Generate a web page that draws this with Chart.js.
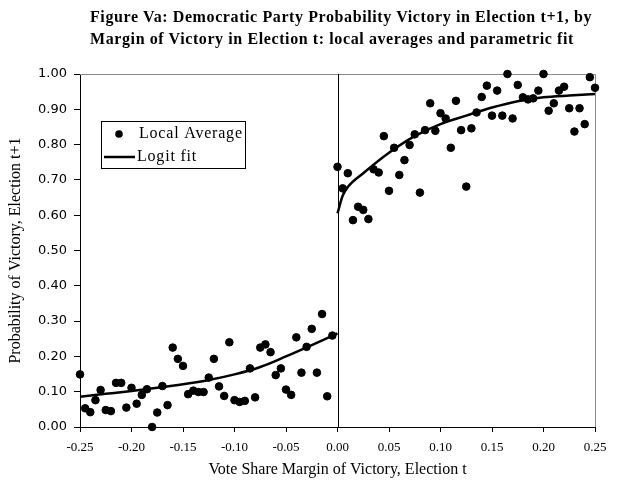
<!DOCTYPE html>
<html>
<head>
<meta charset="utf-8">
<script src="https://cdn.jsdelivr.net/npm/chart.js@4/dist/chart.umd.min.js"></script>
<style>
  body { margin: 0; background: #fff; }
  #wrap { position: relative; width: 617px; height: 484px; }
  #title {
    position: absolute; left: 90px; top: 6px;
    font: bold 16px "Liberation Serif", serif; line-height: 22px; color: #000;
    letter-spacing: 0.6px; white-space: nowrap;
  }
</style>
</head>
<body>
<div id="wrap">
  <canvas id="chart" width="617" height="484"></canvas>
  <div id="title">Figure Va: Democratic Party Probability Victory in Election t+1, by<br>Margin of Victory in Election t: local averages and parametric fit</div>
</div>
<script>
// bin centres (vote share margin) and local averages
const margins = [
  -0.25, -0.245, -0.24, -0.235, -0.23, -0.225, -0.22, -0.215, -0.21, -0.205,
  -0.20, -0.195, -0.19, -0.185, -0.18, -0.175, -0.17, -0.165, -0.16, -0.155,
  -0.15, -0.145, -0.14, -0.135, -0.13, -0.125, -0.12, -0.115, -0.11, -0.105,
  -0.10, -0.095, -0.09, -0.085, -0.08, -0.075, -0.07, -0.065, -0.06, -0.055,
  -0.05, -0.045, -0.04, -0.035, -0.03, -0.025, -0.02, -0.015, -0.01, -0.005,
  0.00, 0.005, 0.01, 0.015, 0.02, 0.025, 0.03, 0.035, 0.04, 0.045,
  0.05, 0.055, 0.06, 0.065, 0.07, 0.075, 0.08, 0.085, 0.09, 0.095,
  0.10, 0.105, 0.11, 0.115, 0.12, 0.125, 0.13, 0.135, 0.14, 0.145,
  0.15, 0.155, 0.16, 0.165, 0.17, 0.175, 0.18, 0.185, 0.19, 0.195,
  0.20, 0.205, 0.21, 0.215, 0.22, 0.225, 0.23, 0.235, 0.24, 0.245, 0.25
];
const localAvg = [
  0.149, 0.053, 0.042, 0.076, 0.105, 0.048, 0.045, 0.125, 0.125, 0.055,
  0.111, 0.066, 0.091, 0.107, 0.000, 0.041, 0.116, 0.062, 0.225, 0.193,
  0.173, 0.093, 0.103, 0.099, 0.099, 0.140, 0.193, 0.115, 0.088, 0.240,
  0.076, 0.071, 0.074, 0.166, 0.084, 0.225, 0.234, 0.212, 0.147, 0.166,
  0.106, 0.091, 0.254, 0.154, 0.227, 0.278, 0.154, 0.320, 0.087, 0.259,
  0.737, 0.676, 0.719, 0.586, 0.624, 0.615, 0.589, 0.730, 0.721, 0.824,
  0.669, 0.791, 0.714, 0.756, 0.799, 0.829, 0.664, 0.841, 0.917, 0.839,
  0.889, 0.874, 0.791, 0.924, 0.841, 0.681, 0.846, 0.891, 0.935, 0.967,
  0.882, 0.953, 0.882, 1.000, 0.874, 0.969, 0.934, 0.928, 0.931, 0.953,
  1.000, 0.896, 0.917, 0.953, 0.964, 0.903, 0.837, 0.903, 0.858, 0.991, 0.961
];

// logit fit (null = break at the cutoff)
const fitMargins = [
  -0.25, -0.225, -0.20, -0.175, -0.15, -0.125, -0.10, -0.075, -0.05, -0.025, 0.00,
  0.00,
  0.00, 0.005, 0.01, 0.025, 0.05, 0.075, 0.10, 0.125, 0.15, 0.175, 0.20, 0.225, 0.25
];
const fitValues = [
  0.086, 0.094, 0.102, 0.111, 0.121, 0.133, 0.149, 0.170, 0.200, 0.232, 0.265,
  null,
  0.605, 0.655, 0.680, 0.719, 0.777, 0.824, 0.858, 0.882, 0.905, 0.923, 0.934, 0.939, 0.943
];

const yTicks = [0, 0.1, 0.2, 0.3, 0.4, 0.5, 0.6, 0.7, 0.8, 0.9, 1.0];

const serif = '"Liberation Serif", "Times New Roman", serif';

// frame, cutoff line and legend box
const decorations = {
  id: 'decorations',
  beforeDatasetsDraw(chart) {
    const { ctx, chartArea: a, scales } = chart;
    ctx.save();
    ctx.lineWidth = 1;
    ctx.strokeStyle = '#8a8a8a';
    ctx.beginPath();
    ctx.moveTo(a.left, a.top + 0.5);
    ctx.lineTo(a.right + 0.5, a.top + 0.5);
    ctx.lineTo(a.right + 0.5, a.bottom);
    ctx.stroke();
    const x0 = Math.round(scales.x.getPixelForValue(0)) + 0.5;
    ctx.strokeStyle = '#000';
    ctx.beginPath();
    ctx.moveTo(x0, a.top);
    ctx.lineTo(x0, a.bottom);
    ctx.stroke();
    ctx.restore();
  },
  afterDraw(chart) {
    const { ctx, chartArea: a } = chart;
    const ds = chart.data.datasets;
    const bx = a.left + 21, by = a.top + 47;
    ctx.save();
    ctx.fillStyle = '#fff';
    ctx.fillRect(bx, by, 144, 47);
    ctx.strokeStyle = '#000';
    ctx.lineWidth = 1;
    ctx.strokeRect(bx + 0.5, by + 0.5, 144, 47);
    ctx.fillStyle = '#000';
    ctx.beginPath();
    ctx.arc(bx + 18, by + 13, 3.8, 0, Math.PI * 2);
    ctx.fill();
    ctx.lineWidth = 2.5;
    ctx.beginPath();
    ctx.moveTo(bx + 3, by + 36);
    ctx.lineTo(bx + 34, by + 36);
    ctx.stroke();
    ctx.font = '16px ' + serif;
    if ('letterSpacing' in ctx) ctx.letterSpacing = '0.8px';
    ctx.textBaseline = 'middle';
    ctx.fillText(ds[0].label, bx + 38, by + 13);
    ctx.fillText(ds[1].label, bx + 36, by + 36);
    ctx.restore();
  }
};

new Chart(document.getElementById('chart'), {
  type: 'scatter',
  data: {
    datasets: [
      {
        label: 'Local Average',
        data: margins.map((m, i) => ({ x: m, y: localAvg[i] })),
        backgroundColor: '#000',
        borderColor: '#000',
        pointRadius: 3.8,
        pointHoverRadius: 3.8,
        clip: false
      },
      {
        label: 'Logit fit',
        data: fitMargins.map((m, i) => ({ x: m, y: fitValues[i] })),
        showLine: true,
        spanGaps: false,
        borderColor: '#000',
        borderWidth: 2.5,
        pointRadius: 0,
        cubicInterpolationMode: 'monotone',
        clip: false
      }
    ]
  },
  options: {
    responsive: false,
    animation: false,
    events: [],
    layout: { padding: { top: 74, right: 22, left: 0, bottom: 0 } },
    plugins: { legend: { display: false }, tooltip: { enabled: false } },
    scales: {
      x: {
        type: 'linear',
        min: -0.25,
        max: 0.25,
        afterFit(s) { s.height = 57; },
        border: { color: '#000', width: 1 },
        grid: { drawOnChartArea: false, drawTicks: true, tickLength: 5, color: '#000' },
        ticks: {
          stepSize: 0.05,
          padding: 8,
          color: '#000',
          font: { family: serif, size: 13 },
          callback: v => (Math.abs(v) < 1e-9 ? 0 : v).toFixed(2)
        },
        title: {
          display: true,
          text: 'Vote Share Margin of Victory, Election t',
          color: '#000',
          font: { family: serif, size: 16 },
          padding: { top: 0, bottom: 5 }
        }
      },
      y: {
        min: 0,
        max: 1,
        afterFit(s) { s.width = 80; },
        afterBuildTicks(s) { s.ticks = yTicks.map(v => ({ value: v })); },
        border: { color: '#000', width: 1 },
        grid: { drawOnChartArea: false, drawTicks: true, tickLength: 6, color: '#000' },
        ticks: {
          padding: 7,
          color: '#000',
          font: { family: '"DejaVu Sans", sans-serif', size: 13 },
          callback: v => v.toFixed(2)
        },
        title: {
          display: true,
          text: 'Probability of Victory, Election t+1',
          color: '#000',
          font: { family: serif, size: 16 },
          padding: { top: 6, bottom: 0 }
        }
      }
    }
  },
  plugins: [decorations]
});
</script>
</body>
</html>
